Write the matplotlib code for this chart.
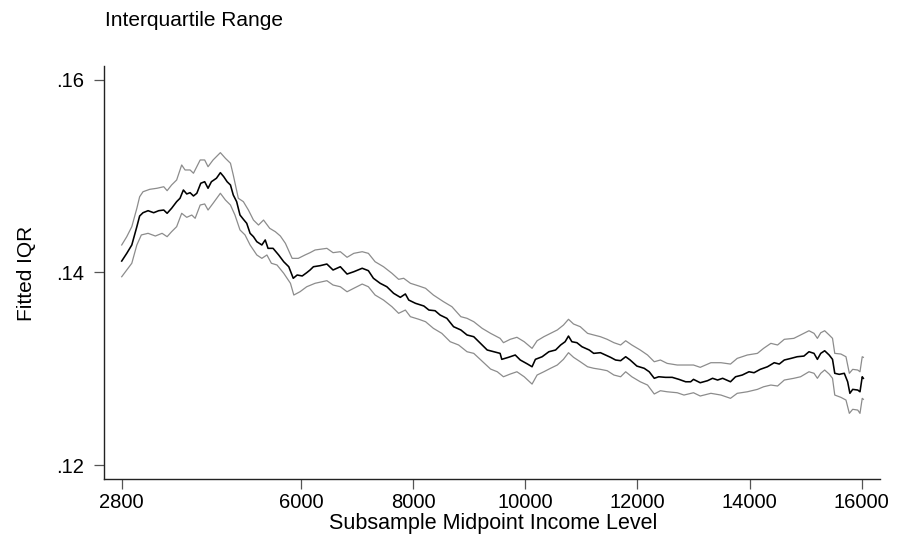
import matplotlib
matplotlib.use("Agg")
import matplotlib.pyplot as plt

plt.rcParams['font.family'] = ['Liberation Sans', 'DejaVu Sans']

# fitted IQR (centre line) by subsample midpoint income
fit_x = [2800, 2890, 2980, 3070, 3120, 3180, 3270, 3370, 3460, 3550, 3610, 3690,
         3780, 3840, 3900, 3960, 4020, 4080, 4140, 4210, 4280, 4340, 4400, 4490,
         4560, 4620, 4680, 4740, 4790, 4850, 4910, 4970, 5030, 5090, 5150, 5210,
         5300, 5360, 5410, 5500, 5600, 5690, 5780, 5860, 5930, 6020, 6100, 6160,
         6220, 6340, 6460, 6570, 6700, 6820, 6940, 7090, 7200, 7290, 7410, 7530,
         7650, 7770, 7860, 7920, 8040, 8190, 8280, 8390, 8480, 8600, 8720, 8850,
         8960, 9080, 9200, 9320, 9440, 9550, 9580, 9700, 9820, 9910, 10040, 10120,
         10180, 10300, 10420, 10540, 10630, 10710, 10770, 10830, 10920, 11010, 11140,
         11220, 11340, 11430, 11520, 11610, 11700, 11790, 11870, 11990, 12120, 12210,
         12300, 12380, 12500, 12620, 12740, 12860, 12950, 13000, 13120, 13250, 13340,
         13430, 13520, 13660, 13750, 13870, 13990, 14080, 14190, 14320, 14440, 14530,
         14620, 14740, 14850, 14970, 15060, 15150, 15210, 15270, 15340, 15420, 15480,
         15520, 15600, 15690, 15750, 15790, 15840, 15930, 15970, 16010, 16030]
fit_y = [0.14119, 0.14199, 0.14286, 0.14476, 0.14587, 0.14621, 0.14642, 0.14621,
         0.14642, 0.14649, 0.14615, 0.14667, 0.14736, 0.14771, 0.14857, 0.14816,
         0.14829, 0.14795, 0.14823, 0.14927, 0.14943, 0.14875, 0.14943, 0.14979,
         0.15037, 0.14995, 0.14943, 0.14909, 0.14805, 0.14736, 0.14597, 0.14553,
         0.14511, 0.14407, 0.14372, 0.14320, 0.14286, 0.14338, 0.14251, 0.14251,
         0.14182, 0.14112, 0.14060, 0.13940, 0.13974, 0.13964, 0.13998, 0.14026,
         0.14060, 0.14071, 0.14088, 0.14026, 0.14060, 0.13984, 0.14008, 0.14044,
         0.14019, 0.13940, 0.13888, 0.13852, 0.13784, 0.13742, 0.13777, 0.13714,
         0.13680, 0.13652, 0.13610, 0.13603, 0.13558, 0.13524, 0.13437, 0.13403,
         0.13351, 0.13333, 0.13264, 0.13195, 0.13177, 0.13160, 0.13098, 0.13119,
         0.13143, 0.13091, 0.13049, 0.13021, 0.13098, 0.13125, 0.13177, 0.13195,
         0.13247, 0.13281, 0.13340, 0.13281, 0.13271, 0.13229, 0.13195, 0.13160,
         0.13167, 0.13143, 0.13119, 0.13091, 0.13084, 0.13125, 0.13091, 0.13028,
         0.13005, 0.12969, 0.12901, 0.12917, 0.12911, 0.12911, 0.12890, 0.12865,
         0.12865, 0.12890, 0.12855, 0.12876, 0.12901, 0.12883, 0.12901, 0.12865,
         0.12917, 0.12935, 0.12969, 0.12959, 0.12994, 0.13021, 0.13063, 0.13049,
         0.13091, 0.13108, 0.13125, 0.13132, 0.13177, 0.13160, 0.13098, 0.13160,
         0.13187, 0.13143, 0.13098, 0.12953, 0.12942, 0.12953, 0.12865, 0.12745,
         0.12786, 0.12779, 0.12761, 0.12917, 0.12901]

# upper confidence bound
up_x = [2800, 2890, 2980, 3070, 3120, 3180, 3300, 3430, 3550, 3610, 3690, 3780,
        3870, 3930, 4020, 4080, 4200, 4280, 4340, 4430, 4560, 4650, 4740, 4790,
        4880, 4970, 5060, 5150, 5240, 5330, 5440, 5540, 5630, 5720, 5840, 5950,
        6070, 6160, 6250, 6460, 6570, 6700, 6820, 6940, 7090, 7200, 7320, 7470,
        7620, 7740, 7830, 7950, 8100, 8220, 8360, 8540, 8690, 8850, 8960, 9080,
        9230, 9380, 9550, 9610, 9730, 9850, 9980, 10120, 10210, 10330, 10450, 10570,
        10680, 10770, 10860, 10980, 11110, 11220, 11340, 11460, 11580, 11700, 11790,
        11900, 12050, 12180, 12300, 12410, 12530, 12710, 12830, 13000, 13120, 13310,
        13490, 13660, 13780, 13960, 14140, 14250, 14380, 14500, 14620, 14790, 14910,
        15060, 15150, 15210, 15270, 15340, 15420, 15480, 15520, 15630, 15720, 15780,
        15840, 15930, 15970, 16010, 16030]
up_y = [0.14286, 0.14372, 0.14476, 0.14667, 0.14787, 0.14839, 0.14864, 0.14875,
        0.14891, 0.14850, 0.14909, 0.14961, 0.15117, 0.15065, 0.15065, 0.15031,
        0.15169, 0.15169, 0.15099, 0.15169, 0.15245, 0.15186, 0.15135, 0.15013,
        0.14771, 0.14736, 0.14649, 0.14545, 0.14493, 0.14545, 0.14459, 0.14424,
        0.14379, 0.14303, 0.14147, 0.14147, 0.14182, 0.14206, 0.14234, 0.14251,
        0.14206, 0.14216, 0.14158, 0.14199, 0.14216, 0.14199, 0.14112, 0.14060,
        0.13992, 0.13929, 0.13940, 0.13888, 0.13860, 0.13836, 0.13766, 0.13697,
        0.13645, 0.13541, 0.13524, 0.13489, 0.13420, 0.13368, 0.13316, 0.13271,
        0.13306, 0.13327, 0.13281, 0.13212, 0.13291, 0.13333, 0.13368, 0.13403,
        0.13454, 0.13514, 0.13465, 0.13437, 0.13368, 0.13351, 0.13333, 0.13306,
        0.13271, 0.13247, 0.13291, 0.13247, 0.13195, 0.13143, 0.13073, 0.13091,
        0.13056, 0.13039, 0.13039, 0.13039, 0.13015, 0.13063, 0.13063, 0.13049,
        0.13108, 0.13143, 0.13160, 0.13212, 0.13264, 0.13247, 0.13306, 0.13316,
        0.13351, 0.13395, 0.13368, 0.13316, 0.13374, 0.13395, 0.13351, 0.13316,
        0.13160, 0.13153, 0.13125, 0.12953, 0.12994, 0.12987, 0.12969, 0.13125,
        0.13119]

# lower confidence bound
lo_x = [2800, 2890, 2980, 3070, 3150, 3270, 3400, 3520, 3610, 3690, 3780, 3870,
        3960, 4050, 4110, 4200, 4280, 4340, 4430, 4560, 4650, 4740, 4820, 4910,
        5000, 5090, 5210, 5300, 5390, 5470, 5570, 5690, 5810, 5870, 5980, 6100,
        6250, 6460, 6570, 6700, 6820, 6940, 7090, 7200, 7320, 7470, 7620, 7740,
        7860, 7950, 8100, 8220, 8360, 8510, 8660, 8810, 8960, 9080, 9380, 9500,
        9610, 9730, 9850, 9980, 10120, 10210, 10330, 10450, 10570, 10680, 10770,
        10860, 10980, 11110, 11220, 11340, 11460, 11580, 11700, 11790, 11900, 12050,
        12180, 12300, 12410, 12530, 12710, 12830, 13000, 13120, 13310, 13490, 13660,
        13780, 13960, 14140, 14250, 14380, 14500, 14620, 14790, 14910, 15060, 15150,
        15210, 15270, 15340, 15420, 15480, 15520, 15630, 15720, 15780, 15840, 15930,
        15970, 16010, 16030]
lo_y = [0.13956, 0.14026, 0.14096, 0.14286, 0.14390, 0.14407, 0.14379, 0.14407,
        0.14372, 0.14424, 0.14476, 0.14615, 0.14573, 0.14597, 0.14563, 0.14701,
        0.14712, 0.14649, 0.14719, 0.14823, 0.14753, 0.14701, 0.14597, 0.14442,
        0.14390, 0.14286, 0.14182, 0.14147, 0.14182, 0.14096, 0.14078, 0.13992,
        0.13888, 0.13766, 0.13800, 0.13852, 0.13888, 0.13915, 0.13870, 0.13852,
        0.13800, 0.13836, 0.13880, 0.13852, 0.13766, 0.13714, 0.13645, 0.13576,
        0.13610, 0.13541, 0.13514, 0.13489, 0.13420, 0.13368, 0.13281, 0.13247,
        0.13177, 0.13160, 0.12997, 0.12969, 0.12917, 0.12945, 0.12969, 0.12917,
        0.12841, 0.12935, 0.12969, 0.13005, 0.13039, 0.13098, 0.13167, 0.13119,
        0.13073, 0.13021, 0.13005, 0.12994, 0.12980, 0.12935, 0.12917, 0.12969,
        0.12917, 0.12865, 0.12831, 0.12738, 0.12772, 0.12761, 0.12751, 0.12727,
        0.12751, 0.12717, 0.12745, 0.12727, 0.12693, 0.12745, 0.12761, 0.12786,
        0.12813, 0.12831, 0.12821, 0.12883, 0.12901, 0.12917, 0.12969, 0.12953,
        0.12901, 0.12953, 0.12987, 0.12945, 0.12901, 0.12727, 0.12703, 0.12675,
        0.12537, 0.12579, 0.12571, 0.12537, 0.12693, 0.12683]

xticks = [2800, 6000, 8000, 10000, 12000, 14000, 16000]
yticks = [0.12, 0.14, 0.16]
ytick_labels = ['.12', '.14', '.16']

fig = plt.figure(figsize=(9, 5.4), dpi=100)
ax = fig.add_axes([104 / 900, 1 - 479 / 540, 776 / 900, 413 / 540])

ax.plot(up_x, up_y, color='#8c8c8c', lw=0.9)
ax.plot(lo_x, lo_y, color='#8c8c8c', lw=0.9)
ax.plot(fit_x, fit_y, color='black', lw=1.15)

ax.set_xlim(2484, 16327)
ax.set_ylim(0.11855, 0.16145)
ax.set_xticks(xticks)
ax.set_xticklabels([str(t) for t in xticks])
ax.set_yticks(yticks)
ax.set_yticklabels(ytick_labels)

for side in ['top', 'right']:
    ax.spines[side].set_visible(False)
for side in ['left', 'bottom']:
    ax.spines[side].set_linewidth(1.0)
    ax.spines[side].set_color('#222222')

ax.tick_params(axis='x', direction='out', length=7.5, width=0.9, pad=2.5,
               labelsize=14.5, color='#555555')
ax.tick_params(axis='y', direction='out', length=7.5, width=0.9, pad=7,
               labelsize=14.5, color='#555555')

fig.text(105 / 900, 1 - 20 / 540, 'Interquartile Range', fontsize=15,
         ha='left', va='center')
fig.text(26 / 900, 1 - 273 / 540, 'Fitted IQR', fontsize=15, rotation=90,
         ha='center', va='center')
fig.text(493 / 900, 1 - 524 / 540, 'Subsample Midpoint Income Level',
         fontsize=15.5, ha='center', va='center')

fig.savefig('out.png', dpi=100)
